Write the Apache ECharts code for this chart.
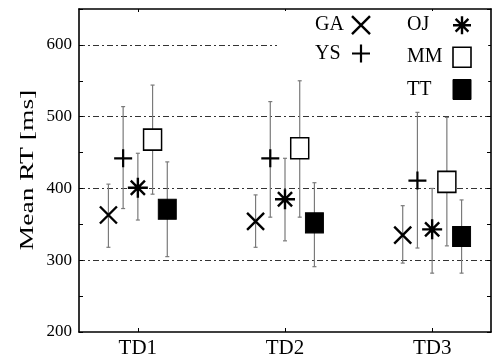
<!DOCTYPE html>
<html><head><meta charset="utf-8">
<script src="https://cdn.jsdelivr.net/npm/echarts@6/dist/echarts.min.js"></script>
<style>html,body{margin:0;padding:0;background:#fff}#c{width:496px;height:364px}</style>
</head><body><div id="c"></div><script>
// ---- data ----
const categories = ['TD1', 'TD2', 'TD3'];
const subjects = ['GA', 'YS', 'OJ', 'MM', 'TT'];
const gridValues = [300, 400, 500, 600];
const meanGA = [363, 354, 335];
const meanYS = [442, 442, 411];
const meanOJ = [401, 385, 343];
const meanMM = [468, 456, 409];
const meanTT = [371, 352, 333];
const upperGA = [406, 391, 376];
const upperYS = [514, 521, 506];
const upperOJ = [449, 442, 400];
const upperMM = [544, 550, 499];
const upperTT = [437, 408, 384];
const lowerGA = [318, 318, 296];
const lowerYS = [372, 360, 317];
const lowerOJ = [356, 327, 282];
const lowerMM = [392, 360, 320];
const lowerTT = [305, 291, 282];

const means = {GA: meanGA, YS: meanYS, OJ: meanOJ, MM: meanMM, TT: meanTT};
const uppers = {GA: upperGA, YS: upperYS, OJ: upperOJ, MM: upperMM, TT: upperTT};
const lowers = {GA: lowerGA, YS: lowerYS, OJ: lowerOJ, MM: lowerMM, TT: lowerTT};

// ---- style ----
const dodge = {GA: -0.2, YS: -0.1, OJ: 0, MM: 0.1, TT: 0.2};
const FONT = "'Liberation Serif', 'Times New Roman', serif";
const SYM = {
  GA: 'path://M0,0L10,10M10,0L0,10',
  YS: 'path://M0,5L10,5M5,0L5,10',
  OJ: 'path://M0,5L10,5M5,0L5,10M1.46,1.46L8.54,8.54M8.54,1.46L1.46,8.54',
  MM: 'rect',
  TT: 'rect'
};
const SIZE = {GA: 17, YS: 18, OJ: 20, MM: [18, 21], TT: [18, 20]};
const ISTYLE = {
  GA: {color: 'transparent', borderColor: '#000', borderWidth: 2.4, opacity: 1},
  YS: {color: 'transparent', borderColor: '#000', borderWidth: 2.2, opacity: 1},
  OJ: {color: 'transparent', borderColor: '#000', borderWidth: 2.4, opacity: 1},
  MM: {color: '#fff', borderColor: '#000', borderWidth: 1.6, opacity: 1},
  TT: {color: '#000', borderColor: '#000', borderWidth: 1, opacity: 1}
};

function errRender(params, api) {
  const x = api.value(0), lo = api.value(1), hi = api.value(2);
  const p1 = api.coord([x, lo]), p2 = api.coord([x, hi]);
  const st = {stroke: '#7a7a7a', lineWidth: 1.2};
  const c = 2;
  return {type: 'group', children: [
    {type: 'line', shape: {x1: p1[0], y1: p1[1], x2: p2[0], y2: p2[1]}, style: st},
    {type: 'line', shape: {x1: p1[0] - c, y1: p1[1], x2: p1[0] + c, y2: p1[1]}, style: st},
    {type: 'line', shape: {x1: p2[0] - c, y1: p2[1], x2: p2[0] + c, y2: p2[1]}, style: st}
  ]};
}

const series = [];
subjects.forEach(function (s) {
  series.push({
    type: 'custom', name: s + '_err', renderItem: errRender, z: 1, silent: true,
    encode: {x: 0, y: [1, 2]},
    data: categories.map(function (c, i) { return [i + 1 + dodge[s], lowers[s][i], uppers[s][i]]; })
  });
});
subjects.forEach(function (s, k) {
  const ser = {
    type: 'scatter', name: s, z: 3,
    symbol: SYM[s], symbolSize: SIZE[s], itemStyle: ISTYLE[s],
    data: categories.map(function (c, i) { return [i + 1 + dodge[s], means[s][i]]; })
  };
  if (k === 0) {
    ser.markLine = {
      silent: true, symbol: 'none', label: {show: false}, z: 0,
      lineStyle: {color: '#333', width: 1, type: [6, 3, 2, 3]},
      data: gridValues.map(function (v) { return {yAxis: v}; })
    };
  }
  series.push(ser);
});

function legendItems(list) {
  return list.map(function (s) {
    return {name: s, icon: SYM[s], itemStyle: ISTYLE[s]};
  });
}
function legendText(w) {
  return {fontFamily: FONT, fontSize: 20, color: '#000',
    rich: {t: {fontFamily: FONT, fontSize: 20, color: '#000', width: w, align: 'left'}}};
}

const chart = echarts.init(document.getElementById('c'), null, {renderer: 'canvas'});
chart.setOption({
  animation: false,
  backgroundColor: '#fff',
  grid: {left: 79, right: 5, top: 9, bottom: 32, containLabel: false},
  legend: [
    {
      left: 277, top: 11, orient: 'vertical', align: 'right',
      padding: [4, 10, 4, 38], backgroundColor: '#fff',
      itemWidth: 18, itemHeight: 20, itemGap: 8,
      formatter: function (n) { return '{t|' + n + '}'; },
      textStyle: legendText(32),
      data: legendItems(['GA', 'YS']), selectedMode: false
    },
    {
      left: 380, top: 11, orient: 'vertical', align: 'right',
      padding: [4, 16, 4, 27], backgroundColor: '#fff',
      itemWidth: 18, itemHeight: 20, itemGap: 11,
      formatter: function (n) { return '{t|' + n + '}'; },
      textStyle: legendText(41),
      data: legendItems(['OJ', 'MM', 'TT']), selectedMode: false
    }
  ],
  xAxis: [
    {
      type: 'value', min: 0.6, max: 3.4, position: 'bottom',
      axisLine: {lineStyle: {color: '#000', width: 1.6}},
      axisTick: {inside: true, length: 4, customValues: [1, 2, 3], lineStyle: {color: '#000'}},
      axisLabel: {customValues: [1, 2, 3], margin: 6, fontFamily: FONT, fontSize: 21, color: '#000',
        formatter: function (v) { return categories[Math.round(v) - 1] || ''; }},
      splitLine: {show: false}
    },
    {
      type: 'value', min: 0.6, max: 3.4, position: 'top',
      axisLine: {lineStyle: {color: '#000', width: 1.6}},
      axisTick: {inside: true, length: 3, customValues: [1, 2, 3], lineStyle: {color: '#000'}},
      axisLabel: {show: false}, splitLine: {show: false}
    }
  ],
  yAxis: [
    {
      type: 'value', min: 200, max: 650, interval: 50, position: 'left',
      axisLine: {show: true, lineStyle: {color: '#000', width: 1.6}},
      axisTick: {show: true, inside: true, length: 4, lineStyle: {color: '#000'}},
      axisLabel: {margin: 7, fontFamily: FONT, fontSize: 17, color: '#000',
        formatter: function (v) { return (v % 100 === 0 && v <= 600) ? String(v) : ''; }},
      splitLine: {show: false}
    },
    {
      type: 'value', min: 200, max: 650, interval: 50, position: 'right',
      axisLine: {show: true, lineStyle: {color: '#000', width: 1.6}},
      axisTick: {show: true, inside: true, length: 4, lineStyle: {color: '#000'}},
      axisLabel: {show: false}, splitLine: {show: false}
    }
  ],
  graphic: [{
    type: 'text', x: 28, y: 170, rotation: Math.PI / 2, scaleX: 1.45, z: 10,
    style: {text: 'Mean RT [ms]', fontFamily: FONT, fontSize: 19, fill: '#000',
      align: 'center', verticalAlign: 'middle'}
  }],
  series: series
});
</script></body></html>
